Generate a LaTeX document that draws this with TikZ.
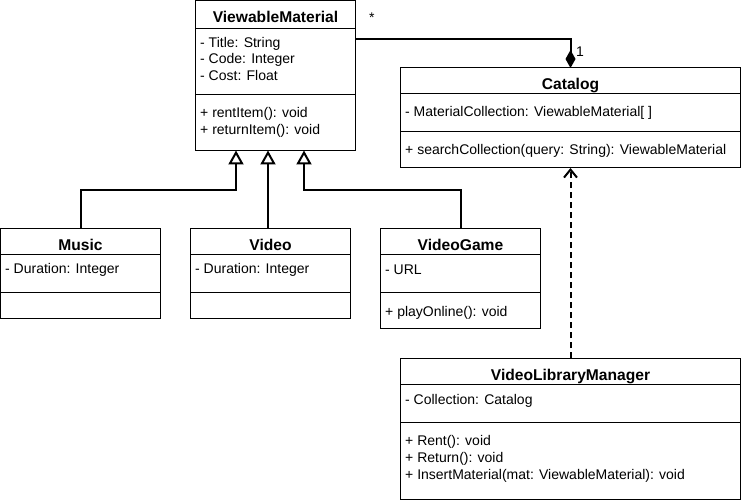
\documentclass[tikz,border=0pt]{standalone}
\usepackage{fontspec}
\setmainfont{Liberation Sans}
\usetikzlibrary{arrows.meta}
\begin{document}
\begin{tikzpicture}[x=1pt,y=-1pt,
 cell/.style={draw=black, line width=1pt, inner sep=0pt, outer sep=0pt, anchor=north west},
 ttl/.style={anchor=base, inner sep=0pt, font=\fontsize{15.6}{18}\selectfont\bfseries},
 txt/.style={anchor=base west, inner sep=0pt, font=\fontsize{14}{16}\selectfont},
 conn/.style={draw=black, line width=2pt},
 gen/.style={conn, -{Triangle[open, length=14pt, width=15pt]}},
 comp/.style={conn, -{Diamond[length=18pt, width=10pt]}},
 dep/.style={conn, dash pattern=on 6pt off 4pt, -{Straight Barb[length=8pt, width=13pt]}}
]
\path[use as bounding box, fill=white] (0,0) rectangle (741,502);

% ViewableMaterial
\node[cell, minimum width=160pt, minimum height=28pt] (vmH) at (195.5,0.5) {};
\node[cell, minimum width=160pt, minimum height=66pt] (vmA) at (195.5,28.5) {};
\node[cell, minimum width=160pt, minimum height=56pt] (vmM) at (195.5,94.5) {};
\node[ttl] (vmT) at (275.5,22.5) {ViewableMaterial};
\node[txt] (vm1) at (200,47.3) {- Title: String};
\node[txt] (vm2) at (200,64) {- Code: Integer};
\node[txt] (vm3) at (200,80.7) {- Cost: Float};
\node[txt] (vm4) at (200,117.7) {+ rentItem(): void};
\node[txt] (vm5) at (200,134.3) {+ returnItem(): void};

% Catalog
\node[cell, minimum width=340pt, minimum height=26pt] (catH) at (400.5,68) {};
\node[cell, minimum width=340pt, minimum height=38pt] (catA) at (400.5,94) {};
\node[cell, minimum width=340pt, minimum height=36pt] (catM) at (400.5,132) {};
\node[ttl] (catT) at (570.5,89.5) {Catalog};
\node[txt] (cat1) at (405,116.7) {- MaterialCollection: ViewableMaterial[ ]};
\node[txt] (cat2) at (405,154.3) {+ searchCollection(query: String): ViewableMaterial};

% Music
\node[cell, minimum width=160pt, minimum height=26pt] (musH) at (0.5,228.5) {};
\node[cell, minimum width=160pt, minimum height=38pt] (musA) at (0.5,254.5) {};
\node[cell, minimum width=160pt, minimum height=26pt] (musM) at (0.5,292.5) {};
\node[ttl] (musT) at (80.5,250.5) {Music};
\node[txt] (mus1) at (5,274) {- Duration: Integer};

% Video
\node[cell, minimum width=160pt, minimum height=26pt] (vidH) at (190.5,228.5) {};
\node[cell, minimum width=160pt, minimum height=38pt] (vidA) at (190.5,254.5) {};
\node[cell, minimum width=160pt, minimum height=26pt] (vidM) at (190.5,292.5) {};
\node[ttl] (vidT) at (270.5,250.5) {Video};
\node[txt] (vid1) at (195,274) {- Duration: Integer};

% VideoGame
\node[cell, minimum width=160pt, minimum height=26pt] (vgH) at (380.5,228.5) {};
\node[cell, minimum width=160pt, minimum height=38pt] (vgA) at (380.5,254.5) {};
\node[cell, minimum width=160pt, minimum height=36pt] (vgM) at (380.5,292.5) {};
\node[ttl] (vgT) at (460.5,250.5) {VideoGame};
\node[txt] (vg1) at (385,274.3) {- URL};
\node[txt] (vg2) at (385,316.7) {+ playOnline(): void};

% VideoLibraryManager
\node[cell, minimum width=340pt, minimum height=26pt] (vlmH) at (400.5,358) {};
\node[cell, minimum width=340pt, minimum height=38pt] (vlmA) at (400.5,384) {};
\node[cell, minimum width=340pt, minimum height=77.5pt] (vlmM) at (400.5,422) {};
\node[ttl] (vlmT) at (570.5,380.7) {VideoLibraryManager};
\node[txt] (vlm1) at (405,404.3) {- Collection: Catalog};
\node[txt] (vlm2) at (405,445) {+ Rent(): void};
\node[txt] (vlm3) at (405,462) {+ Return(): void};
\node[txt] (vlm4) at (405,479) {+ InsertMaterial(mat: ViewableMaterial): void};

% connectors
\draw[comp] (vmA.east |- 0,39) -| (catH.north);
\node[txt] (star) at (369,23) {*};
\node[txt] (one) at (576,57) {1};

\draw[gen] (musH.north) |- (236,190) -- (vmM.south -| 236,0);
\draw[gen] (vidH.north -| 268,0) -- (vmM.south -| 268,0);
\draw[gen] (vgH.north) |- (304,190) -- (vmM.south -| 304,0);

\draw[dep] (vlmH.north) -- (catM.south);
\end{tikzpicture}
\end{document}
